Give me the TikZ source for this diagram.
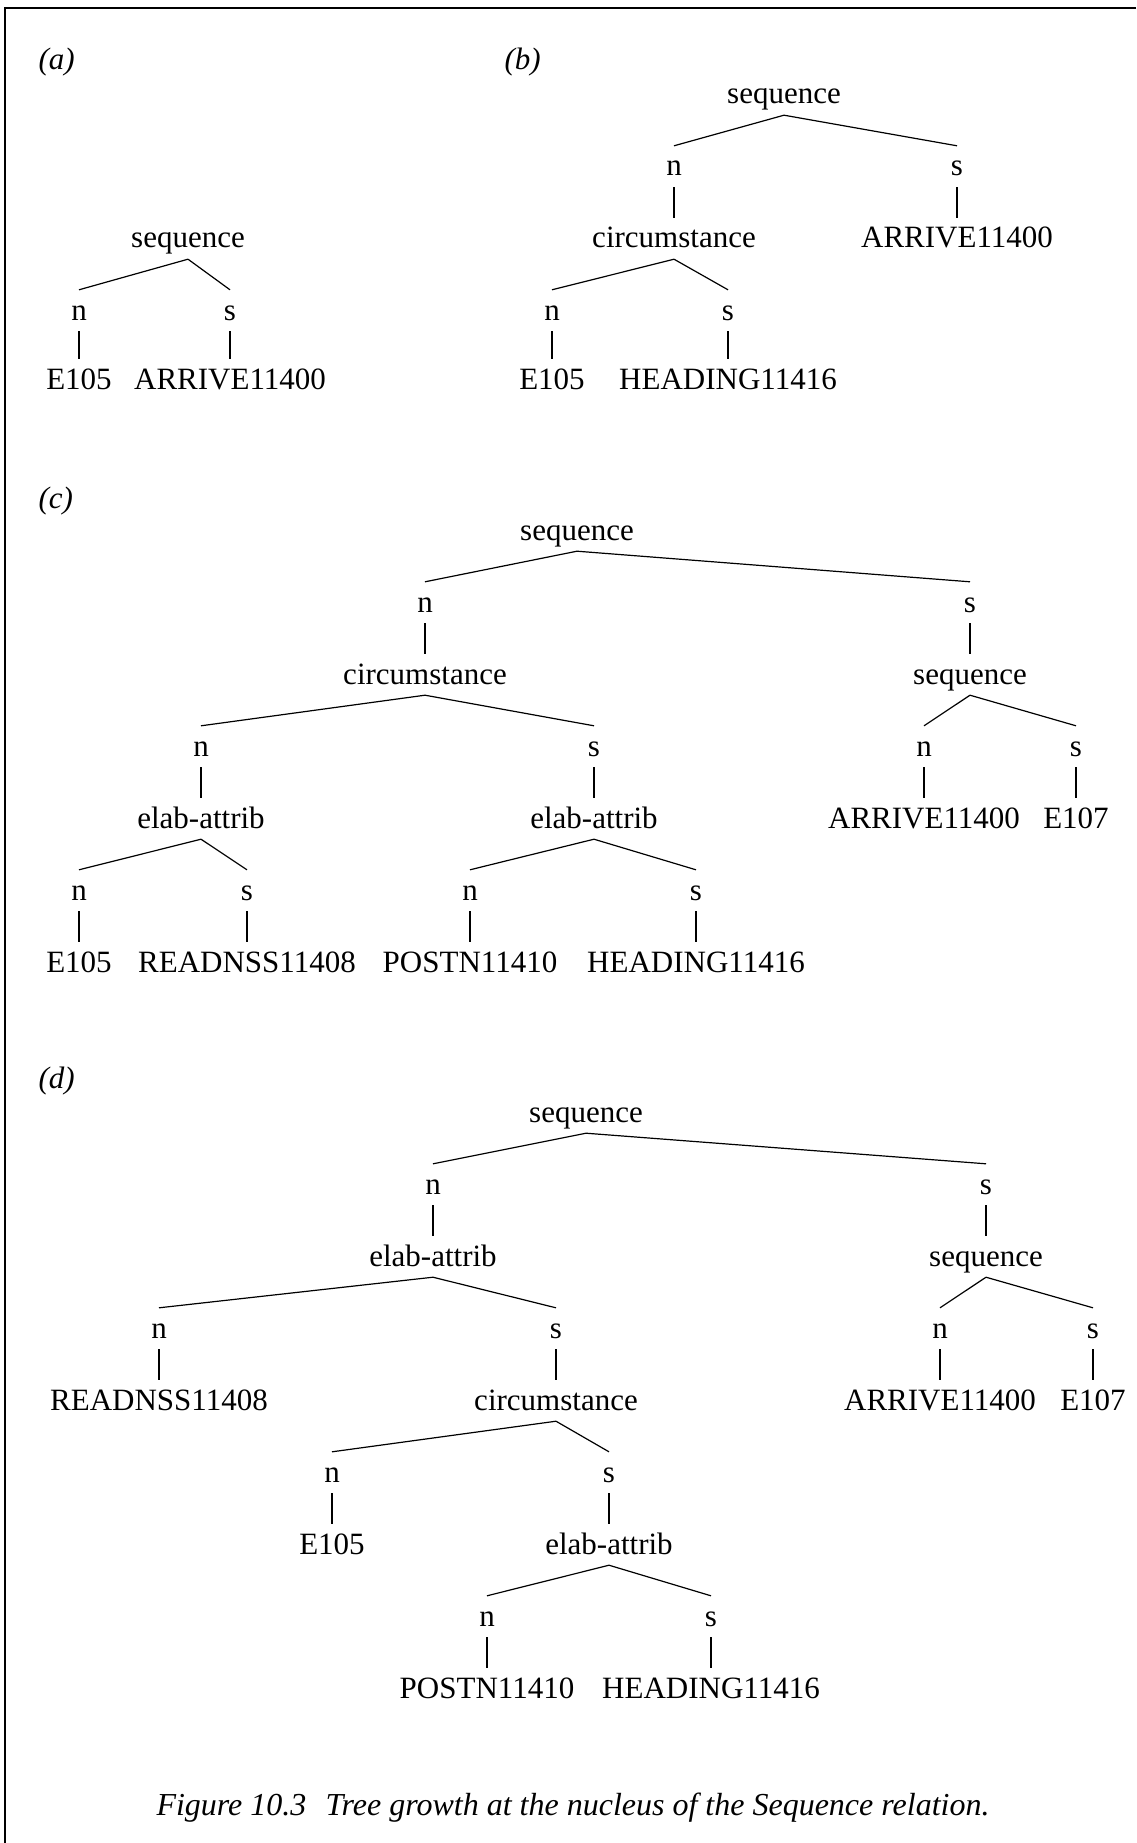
\documentclass[tikz,border=0pt]{standalone}
\usepackage{fontspec}
\setmainfont{Liberation Serif}
\begin{document}
\begin{tikzpicture}[x=1pt,y=-1pt,font=\fontsize{31}{37}\selectfont,
    lbl/.style={anchor=base,inner xsep=2pt,inner ysep=6pt,text height=24pt,text depth=5pt},
    tag/.style={anchor=base west,font=\fontsize{31}{37}\selectfont\itshape},
    edge/.style={line width=1.2pt}]
  \useasboundingbox (0,0) rectangle (1136,1843);
  \draw[line width=2.2pt] (1136,7.7) -- (5,7.7) -- (5,1843);

  % (a)
  \node[tag] (ta) at (35,70) {(a)};
  \node[lbl] (aseq) at (188,248) {sequence};
  \node[lbl] (an) at (79,320) {n};
  \node[lbl] (as) at (230,320) {s};
  \node[lbl] (aE) at (79,389) {E105};
  \node[lbl] (aarr) at (230,389) {ARRIVE11400};

  % (b)
  \node[tag] (tb) at (501,70) {(b)};
  \node[lbl] (bseq) at (784,104) {sequence};
  \node[lbl] (bn) at (674,176) {n};
  \node[lbl] (bs) at (957,176) {s};
  \node[lbl] (bcirc) at (674,248) {circumstance};
  \node[lbl] (barr) at (957,248) {ARRIVE11400};
  \node[lbl] (bcn) at (552,320) {n};
  \node[lbl] (bcs) at (728,320) {s};
  \node[lbl] (bE) at (552,389) {E105};
  \node[lbl] (bhead) at (728,389) {HEADING11416};

  % (c)
  \node[tag] (tc) at (35,508) {(c)};
  \node[lbl] (cseq) at (577,540) {sequence};
  \node[lbl] (cn) at (425,612) {n};
  \node[lbl] (cs) at (970,612) {s};
  \node[lbl] (ccirc) at (425,684) {circumstance};
  \node[lbl] (cseqb) at (970,684) {sequence};
  \node[lbl] (ccn) at (201,756) {n};
  \node[lbl] (ccs) at (594,756) {s};
  \node[lbl] (csn) at (924,756) {n};
  \node[lbl] (css) at (1076,756) {s};
  \node[lbl] (cela) at (201,828) {elab-attrib};
  \node[lbl] (celb) at (594,828) {elab-attrib};
  \node[lbl] (carr) at (924,828) {ARRIVE11400};
  \node[lbl] (cEs) at (1076,828) {E107};
  \node[lbl] (can) at (79,900) {n};
  \node[lbl] (cas) at (247,900) {s};
  \node[lbl] (cbn) at (470,900) {n};
  \node[lbl] (cbs) at (696,900) {s};
  \node[lbl] (cE) at (79,972) {E105};
  \node[lbl] (cread) at (247,972) {READNSS11408};
  \node[lbl] (cpos) at (470,972) {POSTN11410};
  \node[lbl] (chead) at (696,972) {HEADING11416};

  % (d)
  \node[tag] (td) at (35,1088) {(d)};
  \node[lbl] (dseq) at (586,1122) {sequence};
  \node[lbl] (dn) at (433,1194) {n};
  \node[lbl] (ds) at (986,1194) {s};
  \node[lbl] (dela) at (433,1266) {elab-attrib};
  \node[lbl] (dseqb) at (986,1266) {sequence};
  \node[lbl] (den) at (159,1338) {n};
  \node[lbl] (des) at (556,1338) {s};
  \node[lbl] (dsn) at (940,1338) {n};
  \node[lbl] (dss) at (1093,1338) {s};
  \node[lbl] (dread) at (159,1410) {READNSS11408};
  \node[lbl] (dcirc) at (556,1410) {circumstance};
  \node[lbl] (darr) at (940,1410) {ARRIVE11400};
  \node[lbl] (dEs) at (1093,1410) {E107};
  \node[lbl] (dcn) at (332,1482) {n};
  \node[lbl] (dcs) at (609,1482) {s};
  \node[lbl] (dE) at (332,1554) {E105};
  \node[lbl] (delb) at (609,1554) {elab-attrib};
  \node[lbl] (dbn) at (487,1626) {n};
  \node[lbl] (dbs) at (711,1626) {s};
  \node[lbl] (dpos) at (487,1698) {POSTN11410};
  \node[lbl] (dhead) at (711,1698) {HEADING11416};

  \foreach \p/\c in {aseq/an,aseq/as,an/aE,as/aarr,
      bseq/bn,bseq/bs,bn/bcirc,bs/barr,bcirc/bcn,bcirc/bcs,bcn/bE,bcs/bhead,
      cseq/cn,cseq/cs,cn/ccirc,cs/cseqb,ccirc/ccn,ccirc/ccs,cseqb/csn,cseqb/css,
      ccn/cela,ccs/celb,csn/carr,css/cEs,cela/can,cela/cas,celb/cbn,celb/cbs,
      can/cE,cas/cread,cbn/cpos,cbs/chead,
      dseq/dn,dseq/ds,dn/dela,ds/dseqb,dela/den,dela/des,dseqb/dsn,dseqb/dss,
      den/dread,des/dcirc,dsn/darr,dss/dEs,dcirc/dcn,dcirc/dcs,dcn/dE,dcs/delb,
      delb/dbn,delb/dbs,dbn/dpos,dbs/dhead}
    \draw[edge] (\p.south) -- (\c.north);

  \node[lbl,font=\fontsize{32}{38}\selectfont\itshape] (cap) at (573,1815)
    {Figure 10.3\hspace{0.6em}Tree growth at the nucleus of the Sequence relation.};
\end{tikzpicture}
\end{document}
